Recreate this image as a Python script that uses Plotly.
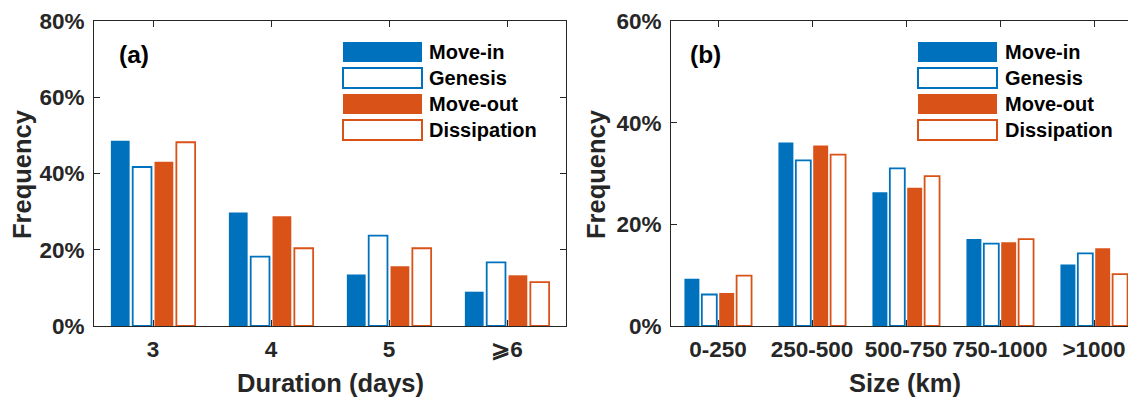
import plotly.graph_objects as go

# ---------------- data ----------------
series_names = ["Move-in", "Genesis", "Move-out", "Dissipation"]
series_colors = ["#0072BD", "#0072BD", "#D95319", "#D95319"]
series_filled = [True, False, True, False]

duration_cats = ["3", "4", "5", "⩾6"]
duration_movein = [48.6, 29.8, 13.5, 9.0]
duration_genesis = [41.7, 18.2, 23.7, 16.7]
duration_moveout = [43.1, 28.8, 15.7, 13.3]
duration_dissip = [48.2, 20.4, 20.4, 11.5]

size_cats = ["0-250", "250-500", "500-750", "750-1000", ">1000"]
size_movein = [9.3, 36.1, 26.3, 17.1, 12.1]
size_genesis = [6.2, 32.6, 31.0, 16.2, 14.3]
size_moveout = [6.5, 35.5, 27.2, 16.5, 15.3]
size_dissip = [9.9, 33.7, 29.5, 17.1, 10.2]

dur_ticks = [0, 20, 40, 60, 80]
dur_ticklabels = ["0%", "20%", "40%", "60%", "80%"]
size_ticks = [0, 20, 40, 60]
size_ticklabels = ["0%", "20%", "40%", "60%"]

# ---------------- layout constants ----------------
OFF = 8                      # page body margin offset
W, H = 1136 - OFF, 397 - OFF
FONT = "Liberation Sans, Arial, Helvetica, sans-serif"
TXT = "#262626"

def px(x):
    return (x - OFF) / W

def py(y):
    return 1 - (y - OFF) / H

fig = go.Figure()

panels = [
    (duration_cats, [duration_movein, duration_genesis, duration_moveout, duration_dissip], "x", "y"),
    (size_cats, [size_movein, size_genesis, size_moveout, size_dissip], "x2", "y2"),
]
for cats, vals, xa, ya in panels:
    for name, col, filled, v in zip(series_names, series_colors, series_filled, vals):
        fig.add_trace(go.Bar(
            x=cats, y=v, name=name, xaxis=xa, yaxis=ya, showlegend=False,
            marker=dict(color=col if filled else "white",
                        line=dict(color=col, width=0 if filled else 1.8)),
        ))

ydom = [py(326), py(21)]
axis_common = dict(showline=True, linecolor=TXT, linewidth=1, mirror="ticks",
                   ticks="inside", ticklen=6, tickcolor=TXT, showgrid=False,
                   zeroline=False, automargin=False,
                   tickfont=dict(family=FONT, size=22.5, color=TXT, weight="bold"))

fig.update_layout(
    width=W, height=H,
    margin=dict(l=0, r=0, t=0, b=0, pad=0),
    plot_bgcolor="white", paper_bgcolor="white",
    showlegend=False,
    barmode="group", bargap=0.26, bargroupgap=0.14,
    xaxis=dict(domain=[px(94), px(566)], type="category", range=[-0.5, 3.5],
               anchor="y", ticklabelstandoff=3, **axis_common),
    yaxis=dict(domain=ydom, range=[0, 80], tickvals=dur_ticks, ticktext=dur_ticklabels,
               anchor="x", ticklabelstandoff=4, **axis_common),
    xaxis2=dict(domain=[px(671), 1.0], type="category",
                range=[-0.5, -0.5 + (1136 - 671) / 94.0], anchor="y2",
                ticklabelstandoff=3, **axis_common),
    yaxis2=dict(domain=ydom, range=[0, 60], tickvals=size_ticks, ticktext=size_ticklabels,
                anchor="x2", ticklabelstandoff=4, **axis_common),
)

ann = []
shapes = []
title_font = dict(family=FONT, size=25.5, color=TXT, weight="bold")
# axis titles
ann.append(dict(text="Frequency", x=px(22), y=py(174), xref="paper", yref="paper",
                xanchor="center", yanchor="middle",
                textangle=-90, showarrow=False, font=title_font))
ann.append(dict(text="Frequency", x=px(596), y=py(174), xref="paper", yref="paper",
                xanchor="center", yanchor="middle",
                textangle=-90, showarrow=False, font=title_font))
ann.append(dict(text="Duration (days)", x=px(330), y=py(383), xref="paper", yref="paper",
                xanchor="center", yanchor="middle", showarrow=False, font=title_font))
ann.append(dict(text="Size (km)", x=px(905), y=py(383), xref="paper", yref="paper",
                xanchor="center", yanchor="middle", showarrow=False, font=title_font))
# panel labels
lab_font = dict(family=FONT, size=24.5, color="black", weight="bold")
ann.append(dict(text="(a)", x=px(134), y=py(54), xref="paper", yref="paper",
                xanchor="center", yanchor="middle", showarrow=False, font=lab_font))
ann.append(dict(text="(b)", x=px(705), y=py(54), xref="paper", yref="paper",
                xanchor="center", yanchor="middle", showarrow=False, font=lab_font))

# legends (drawn manually to match large swatches)
row_y = [52, 78, 104, 130]
for bx0, tx in [(343, 427), (918, 1003)]:
    for name, col, filled, yc in zip(series_names, series_colors, series_filled, row_y):
        shapes.append(dict(type="rect", xref="paper", yref="paper",
                           x0=px(bx0), x1=px(bx0 + 79), y0=py(yc + 10), y1=py(yc - 10),
                           fillcolor=col if filled else "white",
                           line=dict(color=col, width=0 if filled else 2)))
        ann.append(dict(text=name, x=px(tx), y=py(yc), xref="paper", yref="paper",
                        xanchor="left", yanchor="middle", showarrow=False,
                        font=dict(family=FONT, size=20, color="black", weight="bold")))

fig.update_layout(annotations=ann, shapes=shapes)
fig.write_html("out.html")
